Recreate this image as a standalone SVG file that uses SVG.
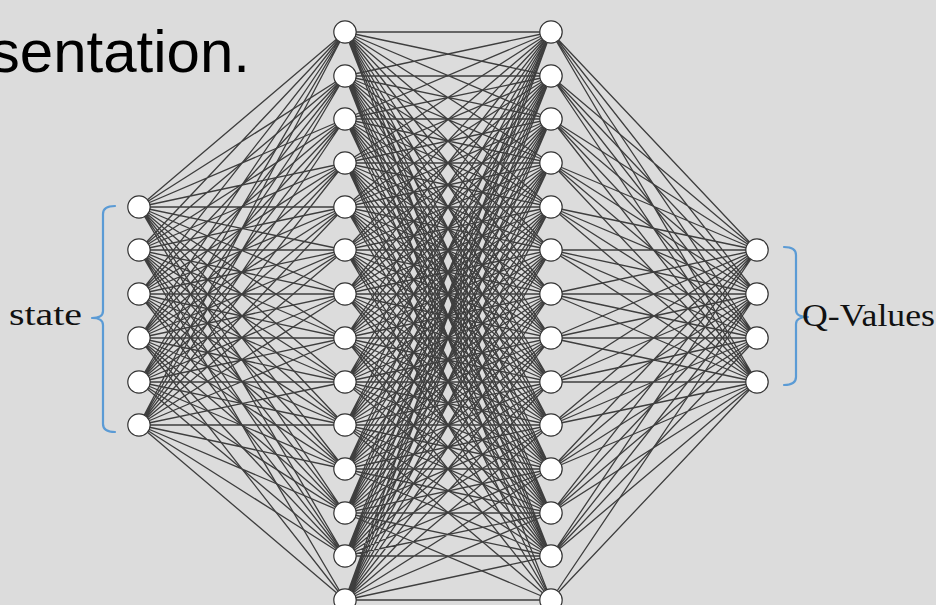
<svg xmlns="http://www.w3.org/2000/svg" width="936" height="605" viewBox="0 0 936 605">
<style>
.bg{fill:#dcdcdc}
.edge{fill:none;stroke:#3e3e3e;stroke-width:1.3;stroke-linejoin:round}
.node circle{fill:#ffffff;stroke:#333333;stroke-width:1.2}
.brace{fill:none;stroke:#5b9bd5;stroke-width:2.2;stroke-linecap:round;stroke-linejoin:round}
.lbl{font-family:"Liberation Serif","Times New Roman",serif;font-size:31px;fill:#111}
.title{font-family:"Liberation Sans",Arial,sans-serif;font-size:60px;fill:#000}
</style>
<rect class="bg" x="0" y="0" width="936" height="605"/>
<text class="title" x="250" y="72" text-anchor="end">sentation.</text>
<g id="connectors">
<path class="edge" d="M139 207L345 32L139 250L345 76L139 207L345 119L139 250L345 163L139 207L345 207L139 250L345 250L139 207L345 294L139 250L345 338L139 207L345 382L139 250L345 425L139 207L345 469L139 250L345 513L139 207L345 556L139 250L345 600"/>
<path class="edge" d="M139 294L345 32L139 338L345 76L139 294L345 119L139 338L345 163L139 294L345 207L139 338L345 250L139 294L345 294L139 338L345 338L139 294L345 382L139 338L345 425L139 294L345 469L139 338L345 513L139 294L345 556L139 338L345 600"/>
<path class="edge" d="M139 382L345 32L139 425L345 76L139 382L345 119L139 425L345 163L139 382L345 207L139 425L345 250L139 382L345 294L139 425L345 338L139 382L345 382L139 425L345 425L139 382L345 469L139 425L345 513L139 382L345 556L139 425L345 600"/>
<path class="edge" d="M345 32L551 32L345 76L551 76L345 32L551 119L345 76L551 163L345 32L551 207L345 76L551 250L345 32L551 294L345 76L551 338L345 32L551 382L345 76L551 425L345 32L551 469L345 76L551 513L345 32L551 556L345 76L551 600"/>
<path class="edge" d="M345 119L551 32L345 163L551 76L345 119L551 119L345 163L551 163L345 119L551 207L345 163L551 250L345 119L551 294L345 163L551 338L345 119L551 382L345 163L551 425L345 119L551 469L345 163L551 513L345 119L551 556L345 163L551 600"/>
<path class="edge" d="M345 207L551 32L345 250L551 76L345 207L551 119L345 250L551 163L345 207L551 207L345 250L551 250L345 207L551 294L345 250L551 338L345 207L551 382L345 250L551 425L345 207L551 469L345 250L551 513L345 207L551 556L345 250L551 600"/>
<path class="edge" d="M345 294L551 32L345 338L551 76L345 294L551 119L345 338L551 163L345 294L551 207L345 338L551 250L345 294L551 294L345 338L551 338L345 294L551 382L345 338L551 425L345 294L551 469L345 338L551 513L345 294L551 556L345 338L551 600"/>
<path class="edge" d="M345 382L551 32L345 425L551 76L345 382L551 119L345 425L551 163L345 382L551 207L345 425L551 250L345 382L551 294L345 425L551 338L345 382L551 382L345 425L551 425L345 382L551 469L345 425L551 513L345 382L551 556L345 425L551 600"/>
<path class="edge" d="M345 469L551 32L345 513L551 76L345 469L551 119L345 513L551 163L345 469L551 207L345 513L551 250L345 469L551 294L345 513L551 338L345 469L551 382L345 513L551 425L345 469L551 469L345 513L551 513L345 469L551 556L345 513L551 600"/>
<path class="edge" d="M345 556L551 32L345 600L551 76L345 556L551 119L345 600L551 163L345 556L551 207L345 600L551 250L345 556L551 294L345 600L551 338L345 556L551 382L345 600L551 425L345 556L551 469L345 600L551 513L345 556L551 556L345 600L551 600"/>
<path class="edge" d="M757 250L551 32L757 294L551 76L757 250L551 119L757 294L551 163L757 250L551 207L757 294L551 250L757 250L551 294L757 294L551 338L757 250L551 382L757 294L551 425L757 250L551 469L757 294L551 513L757 250L551 556L757 294L551 600"/>
<path class="edge" d="M757 338L551 32L757 382L551 76L757 338L551 119L757 382L551 163L757 338L551 207L757 382L551 250L757 338L551 294L757 382L551 338L757 338L551 382L757 382L551 425L757 338L551 469L757 382L551 513L757 338L551 556L757 382L551 600"/>
</g>
<g id="input-layer">
<g id="in1" class="node"><circle cx="139" cy="207" r="11.2"/></g>
<g id="in2" class="node"><circle cx="139" cy="250" r="11.2"/></g>
<g id="in3" class="node"><circle cx="139" cy="294" r="11.2"/></g>
<g id="in4" class="node"><circle cx="139" cy="338" r="11.2"/></g>
<g id="in5" class="node"><circle cx="139" cy="382" r="11.2"/></g>
<g id="in6" class="node"><circle cx="139" cy="425" r="11.2"/></g>
</g>
<g id="hidden-layer-1">
<g id="h1_1" class="node"><circle cx="345" cy="32" r="11.2"/></g>
<g id="h1_2" class="node"><circle cx="345" cy="76" r="11.2"/></g>
<g id="h1_3" class="node"><circle cx="345" cy="119" r="11.2"/></g>
<g id="h1_4" class="node"><circle cx="345" cy="163" r="11.2"/></g>
<g id="h1_5" class="node"><circle cx="345" cy="207" r="11.2"/></g>
<g id="h1_6" class="node"><circle cx="345" cy="250" r="11.2"/></g>
<g id="h1_7" class="node"><circle cx="345" cy="294" r="11.2"/></g>
<g id="h1_8" class="node"><circle cx="345" cy="338" r="11.2"/></g>
<g id="h1_9" class="node"><circle cx="345" cy="382" r="11.2"/></g>
<g id="h1_10" class="node"><circle cx="345" cy="425" r="11.2"/></g>
<g id="h1_11" class="node"><circle cx="345" cy="469" r="11.2"/></g>
<g id="h1_12" class="node"><circle cx="345" cy="513" r="11.2"/></g>
<g id="h1_13" class="node"><circle cx="345" cy="556" r="11.2"/></g>
<g id="h1_14" class="node"><circle cx="345" cy="600" r="11.2"/></g>
</g>
<g id="hidden-layer-2">
<g id="h2_1" class="node"><circle cx="551" cy="32" r="11.2"/></g>
<g id="h2_2" class="node"><circle cx="551" cy="76" r="11.2"/></g>
<g id="h2_3" class="node"><circle cx="551" cy="119" r="11.2"/></g>
<g id="h2_4" class="node"><circle cx="551" cy="163" r="11.2"/></g>
<g id="h2_5" class="node"><circle cx="551" cy="207" r="11.2"/></g>
<g id="h2_6" class="node"><circle cx="551" cy="250" r="11.2"/></g>
<g id="h2_7" class="node"><circle cx="551" cy="294" r="11.2"/></g>
<g id="h2_8" class="node"><circle cx="551" cy="338" r="11.2"/></g>
<g id="h2_9" class="node"><circle cx="551" cy="382" r="11.2"/></g>
<g id="h2_10" class="node"><circle cx="551" cy="425" r="11.2"/></g>
<g id="h2_11" class="node"><circle cx="551" cy="469" r="11.2"/></g>
<g id="h2_12" class="node"><circle cx="551" cy="513" r="11.2"/></g>
<g id="h2_13" class="node"><circle cx="551" cy="556" r="11.2"/></g>
<g id="h2_14" class="node"><circle cx="551" cy="600" r="11.2"/></g>
</g>
<g id="output-layer">
<g id="out1" class="node"><circle cx="757" cy="250" r="11.2"/></g>
<g id="out2" class="node"><circle cx="757" cy="294" r="11.2"/></g>
<g id="out3" class="node"><circle cx="757" cy="338" r="11.2"/></g>
<g id="out4" class="node"><circle cx="757" cy="382" r="11.2"/></g>
</g>
<g id="state-label">
<path class="brace" d="M115 206Q103 206 103 214L103 311Q103 318 92 318Q103 318 103 325L103 424Q103 432 115 432"/>
<text class="lbl" x="9" y="325" textLength="73" lengthAdjust="spacingAndGlyphs">state</text>
</g>
<g id="qvalues-label">
<path class="brace" d="M784 247Q796 247 796 255L796 310Q796 317 808 317Q796 317 796 324L796 377Q796 385 784 385"/>
<text class="lbl" x="802" y="326" textLength="133" lengthAdjust="spacingAndGlyphs">Q-Values</text>
</g>
</svg>
